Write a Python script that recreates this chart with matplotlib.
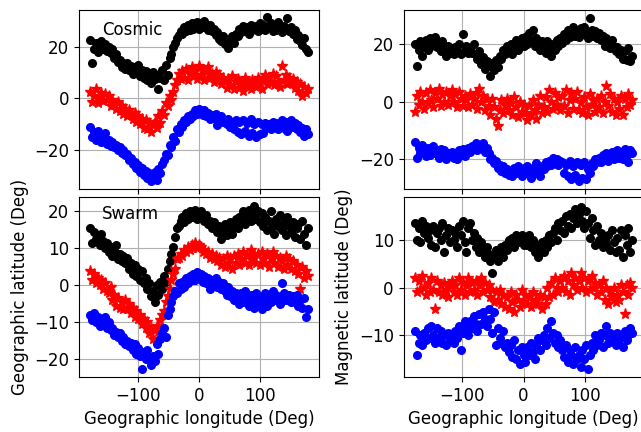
import numpy as np
import matplotlib
matplotlib.use('Agg')
import matplotlib.pyplot as plt

plt.rcParams['font.size'] = 12

# Geographic longitude grid of the crest / trough samples (Deg)
lon = np.arange(-177, 178, 3)

# Cosmic, geographic latitude (northern crest, trough, southern crest)
cosmic_geo_n = [22.5, 13.5, 19, 21.5, 18, 20.5, 22, 19, 21, 18.5,
                20, 17.5, 19, 15.5, 17, 14, 15, 12, 13.5, 11.5,
                13.5, 11, 12.5, 9.5, 12, 10, 13, 8.5, 11, 8,
                10.5, 7, 9.5, 6, 10, 7.5, 9, 3.5, 8, 11,
                7, 13, 9, 15.5, 17, 20, 21.5, 23.5, 24.5, 26,
                25, 27.5, 26, 28.5, 26.5, 29, 27, 28, 29.5, 27,
                29, 27.5, 30, 28, 26.5, 28.5, 26, 27, 24.5, 25.5,
                23, 22, 24, 21, 20.5, 19.5, 22, 24, 21.5, 25,
                24, 27, 25.5, 28, 26, 27.5, 25, 28.5, 26.5, 27,
                28, 26, 29, 27, 28.5, 26.5, 31.5, 27.5, 29, 26,
                28, 26.5, 29.5, 27, 25.5, 28, 27, 31, 26, 27.5,
                25, 26.5, 23, 24.5, 22, 20.5, 23.5, 19, 18]
cosmic_geo_c = [2.5, -1.5, 1, 3.5, -2, 0.5, 2, -1, 1.5, -0.5,
                1, -3, -0.5, -2.5, -4, -1.5, -5, -3, -6, -4,
                -7, -4.5, -6.5, -8, -5.5, -9, -7, -10, -8, -11.5,
                -8.5, -12, -9.5, -13, -10.5, -9, -11.5, -7, -9.5, -5,
                -6.5, -2, -3, 1, -0.5, 2.5, 5, 7, 9.5, 7.5,
                10.5, 8, 11.5, 7, 9.5, 12, 8.5, 10.5, 7.5, 12.5,
                9, 11, 7, 10, 12, 8, 9.5, 6.5, 10, 7.5,
                9, 5.5, 8, 6.5, 4, 7.5, 5, 8.5, 3.5, 6.5,
                7.5, 4, 6, 3, 8, 5, 6.5, 3.5, 7, 5,
                4.5, 8, 6, 3.5, 7.5, 9, 5.5, 8, 6, 9.5,
                5, 8.5, 6.5, 4.5, 12.5, 7, 9, 5.5, 8, 6,
                7.5, 4, 6.5, 3, 5.5, 1, 4.5, 2, 3.5]
cosmic_geo_s = [-11, -15, -13, -16, -12.5, -14.5, -17, -15, -13.5, -17.5,
                -16, -18.5, -17, -19, -18, -20, -19, -21, -20, -22,
                -21.5, -24, -23, -25.5, -24.5, -27, -26, -28.5, -27, -29.5,
                -28, -31, -29, -32, -30, -28.5, -31.5, -27.5, -29, -25.5,
                -24, -21.5, -22, -18, -19, -15, -16.5, -12, -13, -10,
                -11, -8.5, -9, -7, -8, -6, -7, -4.5, -6, -4,
                -5.5, -6.5, -4.5, -7, -5.5, -8, -6.5, -7.5, -6, -10.5,
                -8, -7, -9, -8.5, -10, -8, -11, -9.5, -12, -8.5,
                -13, -9, -14, -8.5, -12.5, -9.5, -14.5, -8, -13.5, -10,
                -15, -9, -14, -10, -13.5, -9.5, -11, -10, -12, -9,
                -11, -9.5, -12, -10, -8.5, -11.5, -9, -12.5, -10, -8.5,
                -11, -9.5, -12, -10.5, -13, -11.5, -14.5, -12, -14]

# Swarm, geographic latitude
swarm_geo_n = [15.5, 11.5, 14.5, 12.5, 13, 11, 14, 12, 10, 11.5,
               9, 10.5, 8, 9.5, 11, 7, 8.5, 6.5, 8, 6,
               7.5, 4.5, 6, 3, 5.5, 2.5, 4.5, 1.5, 4, 0.5,
               2, -1, 0.5, -3, -1.5, -4.5, 0, -2.5, 1, -1,
               2.5, 1, 4.5, 6.5, 8.5, 10.5, 13, 15.5, 16, 17.5,
               18.5, 17, 19.5, 18, 20, 18.5, 19, 20.5, 18, 19.5,
               20, 18, 17.5, 19, 16.5, 17.5, 15.5, 17, 16, 14.5,
               16, 12.5, 14.5, 16.5, 13.5, 15.5, 17, 14, 16, 18,
               15.5, 18.5, 17, 20, 16.5, 18.5, 20.5, 17.5, 19, 21.5,
               18, 20, 17, 19.5, 16, 18.5, 15, 17.5, 20, 16,
               14, 18, 16, 19, 15, 17, 13.5, 18.5, 16, 14.5,
               17, 13, 15.5, 16.5, 12.5, 17.5, 14, 11, 15.5]
swarm_geo_c = [4, 1.5, 3, 0.5, 2, 0, 1.5, -1, 0.5, -1.5,
               -2, -0.5, -4, -2.5, -5.5, -3.5, -6, -4.5, -6.5, -4,
               -6.5, -5, -7.5, -6, -8.5, -7, -9, -8, -10.5, -9,
               -11.5, -10, -13, -11.5, -14.5, -12, -11, -12.5, -9.5, -8,
               -7, -4.5, -3, -1, 1.5, 3, 4.5, 7, 7.5, 8.5,
               8, 9.5, 9, 10.5, 9.5, 11, 10, 11.5, 10, 11,
               10.5, 9, 9.5, 8.5, 9, 7.5, 8.5, 7, 8, 6.5,
               7.5, 5.5, 7, 5, 8, 6, 7.5, 4.5, 8, 6,
               8.5, 5.5, 7, 9, 6, 8, 5.5, 9.5, 7, 8.5,
               6, 8.5, 5.5, 9, 7, 6, 8.5, 5, 7.5, 9,
               6, 8, 5, 7.5, 6.5, 4.5, 8, 5.5, 7, 4.5,
               6.5, 4, 5.5, 3, -1, 5, 2, 4, 2.5]
swarm_geo_s = [-8, -9.5, -7.5, -10, -8.5, -11, -9, -10.5, -8.5, -11.5,
               -10, -12, -11.5, -13.5, -12.5, -14, -13, -15, -14, -16,
               -15, -16.5, -15.5, -17.5, -16, -18.5, -17, -19, -22.5, -18,
               -20, -17.5, -19.5, -21.5, -19, -20.5, -16, -18.5, -14.5, -13,
               -11.5, -14, -8, -6.5, -4.5, -3, -1.5, -2, 0.5, -1,
               1, -0.5, 2, 0.5, 2.5, 1.5, 3, 1.5, 3.5, 2,
               3, 1, 2.5, 0.5, 2, -1, 1.5, 0, 2, -0.5,
               1, -1, 0.5, -1.5, -2.5, -0.5, -3, -1.5, -4, -2,
               -3, -5, -2, -4.5, -1.5, -3.5, -5.5, -2.5, -4, -6,
               -2, -5, -3.5, -6.5, -4, -2, -5.5, -3, -4.5, -1.5,
               -4, -2.5, -3.5, -5, 0.5, -2, -4, -3, -2.5, -4.5,
               -3, -4.5, -2.5, -5.5, -4, -6, -3.5, -8.5, -6.5]

# Cosmic, magnetic latitude
cosmic_mag_n = [20, 12.5, 18, 21, 16, 19.5, 21.5, 18, 22, 19.5,
                21, 22.5, 19, 20.5, 17.5, 21, 18.5, 16, 19.5, 17,
                18.5, 16.5, 19, 17.5, 20, 16.5, 23.5, 18, 19.5, 17,
                18.5, 17, 20, 16.5, 15, 17.5, 13, 15.5, 11.5, 14,
                12.5, 9, 13.5, 11, 14.5, 12, 16, 15, 18, 16.5,
                19.5, 17.5, 20, 16.5, 19, 21.5, 18, 20.5, 22, 19.5,
                22.5, 20, 24, 21, 25, 19.5, 22, 20.5, 18, 21,
                19, 17, 21, 18.5, 16, 20, 18, 21.5, 19.5, 22,
                20.5, 23.5, 21.5, 25, 22.5, 24, 26, 23, 25, 22.5,
                25.5, 23.5, 26, 24, 22, 29, 25, 23, 24.5, 22,
                24, 21.5, 23, 19.5, 22, 20, 18.5, 21.5, 19, 17.5,
                19, 16.5, 18, 15, 17.5, 14.5, 18.5, 14, 16]
cosmic_mag_c = [-3.5, 2, -1, 3.5, 0, -2.5, 3, -0.5, 4, 0.5,
                -2, 3, 1, 4.5, -1.5, 2.5, 0, 3.5, -1, 2,
                4, 0, 2.5, -2, 3.5, 1, -1.5, 2, 0.5, -2,
                2.5, -1, 1, 3, -2.5, 4.5, 0, 2, -3, 1,
                -1.5, -4.5, 1, -2, -6, -8.5, -3, 0.5, -4, -1,
                1, -3, -0.5, -4.5, 1.5, -2, -5.5, 0, -3.5, -1,
                -4, -6.5, -1.5, -4.5, 0.5, -3, -6, -1, 2, -4,
                -2, 1.5, -3.5, 4, 0, -2.5, 3, -1, 1.5, -3,
                2, -1.5, 4, -4, 0.5, 3, -2.5, 1, 3.5, -3,
                0, -4, 1.5, -2, -4.5, 2.5, -1, 0.5, -3.5, 1,
                -2, 2, -4, 0, 5.5, -1.5, 2.5, -3.5, 1, -4.5,
                0, -2.5, 2, -4.5, 1, -2, 2.5, -1, 0.5]
cosmic_mag_s = [-14, -19.5, -16, -18, -15, -17.5, -19, -16, -18.5, -17,
                -15.5, -18, -17, -19.5, -16.5, -18.5, -17, -20, -18, -19,
                -17.5, -19.5, -18, -20, -17, -18.5, -16.5, -19, -17.5, -16,
                -17.5, -15.5, -16.5, -14.5, -17, -15, -16, -14.5, -17.5, -16,
                -18, -20, -19.5, -21.5, -20.5, -23, -22, -24, -22.5, -25,
                -23.5, -25.5, -24, -26, -23, -25, -22.5, -24.5, -26, -23,
                -25, -22.5, -24.5, -26.5, -23, -25, -21.5, -24, -26, -22.5,
                -23.5, -21, -22.5, -20.5, -22, -19.5, -21.5, -20, -22, -20.5,
                -21, -25, -22, -26, -20.5, -27, -22.5, -25.5, -21, -27.5,
                -22, -26.5, -21, -27, -23.5, -25, -21.5, -22.5, -20, -21,
                -19.5, -21, -18.5, -20, -18, -20.5, -19, -17.5, -20, -18.5,
                -17, -19.5, -18, -20, -16.5, -18.5, -21, -17, -18]

# Swarm, magnetic latitude
swarm_mag_n = [13.5, 10, 12.5, 9.5, 14, 11.5, 13, 10.5, 12, 9,
               13, 8.5, 11.5, 12.5, 10, 13.5, 7.5, 11, 12.5, 9.5,
               12, 10, 11.5, 8.5, 13, 11, 14, 9.5, 7.5, 12.5,
               13.5, 10, 11.5, 8.5, 10.5, 7.5, 9.5, 8, 6.5, 8.5,
               7, 5.5, 3, 6.5, 8, 5.5, 7.5, 8.5, 6.5, 9,
               8, 10, 9, 10.5, 8.5, 11, 9.5, 10, 11, 9,
               10.5, 9, 11, 8.5, 10, 7.5, 9, 6.5, 8, 9.5,
               7.5, 10, 8.5, 11, 9.5, 11.5, 12.5, 10, 13.5, 12,
               14, 11.5, 15, 13, 15.5, 12.5, 14.5, 16.5, 13.5, 15.5,
               17, 14, 12.5, 16, 13.5, 10.5, 14.5, 12, 9, 13,
               10, 11.5, 8.5, 10, 9, 11, 8, 12, 9.5, 7.5,
               10.5, 8, 12, 6.5, 11, 9, 12.5, 7.5, 10]
swarm_mag_c = [2, -1, 1.5, -0.5, 2.5, 0, -1.5, 1, -1, 2,
               -0.5, -4.5, 1.5, -1, 0.5, -1.5, 1, -0.5, -2, 0.5,
               1.5, -1, 0.5, -1.5, 2, -0.5, 1, -1.5, 0.5, 2,
               -1, 1, -0.5, 1.5, -1.5, 0.5, 2, -1, 1, -0.5,
               0.5, -2, -0.5, -3, -1, -2.5, -0.5, -3.5, -1.5, -4,
               -2, -4.5, -1, -3, -5, -1.5, -2.5, -4, -0.5, -3,
               -1.5, -3.5, -2, -4, -1, -3, -2.5, -3.5, -1.5, -4.5,
               -2, -3.5, 0, -2, 1, -1.5, 2, 0, -1, 1.5,
               0, 2.5, -1, 1.5, -1.5, 3, 0.5, 2, -0.5, 1.5,
               3, 0, 2, -1, 1.5, -0.5, 2.5, 0, 1, -1.5,
               0.5, -1, 1.5, -2.5, 0, -3.5, -1, -2, 0, -3,
               -1.5, -2.5, 0.5, -1, -5.5, 0.5, -1.5, 1, 0]
swarm_mag_s = [-9, -14, -11.5, -10, -12, -9.5, -11, -8.5, -10.5, -8,
               -10, -11.5, -8.5, -10.5, -9, -11.5, -10, -12, -9.5, -11,
               -10, -11.5, -9, -10.5, -8, -13, -9.5, -7, -8.5, -10,
               -7, -8.5, -6, -7.5, -9, -5.5, -7.5, -5, -6.5, -8,
               -4.5, -6.5, -9.5, -5, -12, -8.5, -10.5, -11.5, -9, -12.5,
               -11.5, -13.5, -12, -14.5, -11, -15, -13, -16, -12.5, -14,
               -15.5, -12.5, -14, -11.5, -13.5, -15, -12, -10.5, -13, -11,
               -10, -12, -8.5, -10.5, -7, -9.5, -11.5, -10, -12.5, -11,
               -13, -14.5, -12, -15.5, -13, -14, -16, -12.5, -15, -14,
               -16.5, -13, -15, -12, -17, -14, -11.5, -13, -10, -12,
               -11, -9.5, -12.5, -10, -8, -11.5, -9.5, -11, -10, -12,
               -9.5, -11, -10, -12.5, -9, -11, -10, -8.5, -9.5]


fig = plt.figure(figsize=(6.41, 4.32), dpi=100)
ax1 = fig.add_axes([0.1232, 0.5625, 0.3744, 0.4144])
ax2 = fig.add_axes([0.6295, 0.5625, 0.3744, 0.4144])
ax3 = fig.add_axes([0.1232, 0.1273, 0.3744, 0.4167])
ax4 = fig.add_axes([0.6295, 0.1273, 0.3744, 0.4167])


def crests(ax, north, center, south):
    ax.plot(lon, north, 'ko', markersize=5.5)
    ax.plot(lon, center, 'r*', markersize=8)
    ax.plot(lon, south, 'bo', markersize=5.5)
    ax.grid(True)
    ax.set_xlim(-195.5, 195.5)


crests(ax1, cosmic_geo_n, cosmic_geo_c, cosmic_geo_s)
crests(ax2, cosmic_mag_n, cosmic_mag_c, cosmic_mag_s)
crests(ax3, swarm_geo_n, swarm_geo_c, swarm_geo_s)
crests(ax4, swarm_mag_n, swarm_mag_c, swarm_mag_s)

ax1.set_ylim(-35.1, 34.2)
ax2.set_ylim(-30.4, 31.9)
ax3.set_ylim(-24.8, 23.9)
ax4.set_ylim(-18.7, 19.0)

ax1.tick_params(labelbottom=False)
ax2.tick_params(labelbottom=False)

ax1.text(-158, 24.5, 'Cosmic')
ax3.text(-158, 18, 'Swarm')

ax3.set_xlabel('Geographic longitude (Deg)')
ax4.set_xlabel('Geographic longitude (Deg)')
ax3.set_ylabel('Geographic latitude (Deg)')
ax4.set_ylabel('Magnetic latitude (Deg)')

fig.savefig('out.png', dpi=100)
